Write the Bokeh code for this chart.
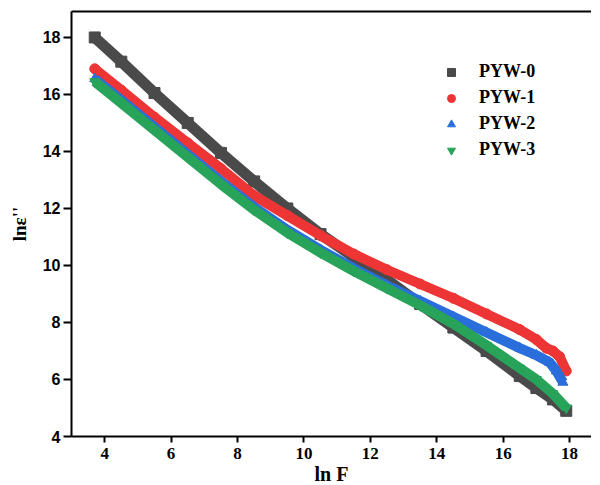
from bokeh.plotting import figure
from bokeh.models import (Range1d, FixedTicker, LinearAxis, Legend, LegendItem)
from bokeh.embed import file_html
from bokeh.resources import INLINE

# ---- data ----
names = ["PYW-0", "PYW-1", "PYW-2", "PYW-3"]

x0 = [3.7, 4.5, 5.5, 6.5, 7.5, 8.5, 9.5, 10.5, 11.5, 12.5, 13.5, 14.5, 15.5, 16.5, 17.0, 17.5, 17.9]
y0 = [18.0, 17.15, 16.05, 15.0, 13.95, 12.95, 12.0, 11.1, 10.3, 9.5, 8.65, 7.82, 7.0, 6.12, 5.7, 5.3, 4.9]

x1 = [3.7, 4.5, 5.5, 6.5, 7.5, 8.5, 9.5, 10.5, 11.5, 12.5, 13.5, 14.5, 15.5, 16.5, 17.0, 17.3, 17.5, 17.7, 17.9]
y1 = [16.9, 16.15, 15.2, 14.3, 13.4, 12.45, 11.75, 11.05, 10.4, 9.85, 9.35, 8.85, 8.3, 7.75, 7.4, 7.1, 7.0, 6.8, 6.3]

x2 = [3.7, 4.5, 5.5, 6.5, 7.5, 8.5, 9.5, 10.5, 11.5, 12.5, 13.5, 14.5, 15.5, 16.5, 17.0, 17.4, 17.6, 17.8]
y2 = [16.55, 15.8, 14.85, 13.9, 12.95, 12.05, 11.25, 10.55, 9.9, 9.3, 8.75, 8.2, 7.65, 7.1, 6.85, 6.6, 6.3, 5.9]

x3 = [3.7, 4.5, 5.5, 6.5, 7.5, 8.5, 9.5, 10.5, 11.5, 12.5, 13.5, 14.5, 15.5, 16.5, 17.0, 17.5, 17.9]
y3 = [16.45, 15.7, 14.75, 13.8, 12.85, 11.95, 11.15, 10.45, 9.8, 9.2, 8.6, 7.95, 7.2, 6.4, 6.0, 5.5, 5.0]

x_ticks = [4, 6, 8, 10, 12, 14, 16, 18]
y_ticks = [4, 6, 8, 10, 12, 14, 16, 18]

colors = ["#4a4a4a", "#ee3535", "#2a6edc", "#27a35a"]
markers = ["square", "circle", "triangle", "inverted_triangle"]

p = figure(frame_width=520, frame_height=425, output_backend="svg", toolbar_location=None,
           x_range=Range1d(3.0, 18.66), y_range=Range1d(4.0, 18.91),
           min_border_left=71, min_border_right=0, min_border_top=11, min_border_bottom=0)
p.outline_line_color = None
p.xgrid.visible = False
p.ygrid.visible = False
p.background_fill_color = "white"
p.border_fill_color = "white"

series = [(x0, y0), (x1, y1), (x2, y2), (x3, y3)]
lw = [11, 10, 10, 10]
items = []
for (xs, ys), c, m, w, n in zip(series, colors, markers, lw, names):
    p.line(xs, ys, line_color=c, line_width=w, line_join="round")
    r = p.scatter(xs, ys, marker=m, size=w, fill_color=c, line_color=c)
    items.append(LegendItem(label=n, renderers=[r]))

# axes
for ax in (p.xaxis[0], p.yaxis[0]):
    ax.axis_line_width = 2
    ax.axis_line_color = "black"
    ax.major_tick_line_width = 2
    ax.major_tick_line_color = "black"
    ax.major_tick_in = 0
    ax.minor_tick_line_color = None
    ax.major_label_text_font_style = "bold"
    ax.major_label_text_color = "black"
    ax.axis_label_text_font = "Liberation Serif"
    ax.axis_label_text_font_style = "bold"
    ax.axis_label_text_color = "black"

p.xaxis.ticker = FixedTicker(ticks=x_ticks)
p.yaxis.ticker = FixedTicker(ticks=y_ticks)
p.xaxis.major_tick_out = 6
p.yaxis.major_tick_out = 8
p.xaxis.major_label_standoff = 5
p.yaxis.major_label_standoff = 3
p.xaxis.major_label_text_font = "Liberation Serif"
p.xaxis.major_label_text_font_size = "17px"
p.yaxis.major_label_text_font = "Liberation Sans"
p.yaxis.major_label_text_font_size = "16px"

p.xaxis.axis_label = "ln F"
p.xaxis.axis_label_text_font_size = "20px"
p.xaxis.axis_label_standoff = 1
p.yaxis.axis_label = "lnε''"
p.yaxis.axis_label_text_font_size = "19px"
p.yaxis.axis_label_standoff = 10

top = LinearAxis(ticker=FixedTicker(ticks=[]), axis_line_width=2, axis_line_color="black",
                 major_tick_line_color=None, minor_tick_line_color=None,
                 major_label_standoff=0, major_tick_out=0, axis_label_standoff=0)
p.add_layout(top, "above")

legend = Legend(items=items, location=(370, 276), border_line_color=None,
                background_fill_alpha=0, padding=0, margin=0, spacing=5,
                glyph_width=20, glyph_height=20, label_height=20, label_standoff=18,
                label_text_font="Liberation Serif", label_text_font_style="bold",
                label_text_font_size="18px", label_text_color="black")
p.add_layout(legend)

open("out.html", "w").write(file_html(p, INLINE))
